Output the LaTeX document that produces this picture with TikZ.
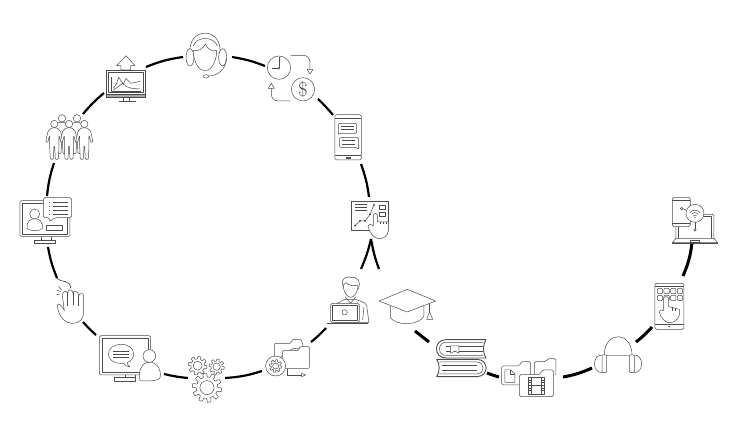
\documentclass[tikz,border=0pt]{standalone}
\tikzset{
  iconbox/.style={rectangle, inner sep=0pt, outer sep=0pt},
  glyph/.style={line width=0.5pt, black!70, line join=round},
  fillglyph/.style={glyph, fill=white},
  link/.style={line width=2.2pt, black},
  boldlink/.style={line width=3pt, black},
}
\newcommand{\cog}[4]{%
  \draw[fillglyph] plot[domain=0:360, samples=161] ({#1+#3*(.86+.14*min(1,max(-1,3*sin(#4*\x))))*cos(\x)},{#2+#3*(.86+.14*min(1,max(-1,3*sin(#4*\x))))*sin(\x)}) -- cycle;
  \draw[glyph] (#1,#2) circle ({#3*.48});
}
\begin{document}
\begin{tikzpicture}[x=1pt, y=-1pt]
\useasboundingbox (0,0) rectangle (737,430);

\node[iconbox, minimum width=41pt, minimum height=45pt] (agent) at (206,55) {};
\node[iconbox, minimum width=48pt, minimum height=46pt] (money) at (291,78) {};
\node[iconbox, minimum width=26pt, minimum height=45pt] (phone) at (348,138) {};
\node[iconbox, minimum width=38pt, minimum height=38pt] (board) at (370,220) {};
\node[iconbox, minimum width=42pt, minimum height=46pt] (person) at (348,300) {};
\node[iconbox, minimum width=44pt, minimum height=38pt] (folder) at (288,358) {};
\node[iconbox, minimum width=35pt, minimum height=47pt] (gears) at (205,379) {};
\node[iconbox, minimum width=62pt, minimum height=45pt] (chat) at (130,358) {};
\node[iconbox, minimum width=27pt, minimum height=41pt] (hand) at (70,303) {};
\node[iconbox, minimum width=52pt, minimum height=45pt] (profile) at (46,220) {};
\node[iconbox, minimum width=47pt, minimum height=46pt] (people) at (70,137) {};
\node[iconbox, minimum width=40pt, minimum height=46pt] (chart) at (126,79) {};
\node[iconbox, minimum width=57pt, minimum height=35pt] (cap) at (407,306) {};
\node[iconbox, minimum width=49pt, minimum height=38pt] (books) at (461,358) {};
\node[iconbox, minimum width=55pt, minimum height=38pt] (files) at (528,378) {};
\node[iconbox, minimum width=46pt, minimum height=37pt] (phones) at (618,354) {};
\node[iconbox, minimum width=29pt, minimum height=46pt] (tablet) at (670,306) {};
\node[iconbox, minimum width=46pt, minimum height=46pt] (devices) at (695,220) {};

\draw[link] ([shift={(26,2)}]agent.center) to[bend left=6] ([shift={(-26,-12)}]money.center);
\draw[link] ([shift={(27,21)}]money.center) to[bend left=3] ([shift={(-15,-23)}]phone.center);
\draw[link] ([shift={(13,26)}]phone.center) to[bend left=6] ([shift={(-1,-23)}]board.center);
\draw[link] ([shift={(1,19)}]board.center) to[bend left=5] ([shift={(13,-31)}]person.center);
\draw[link] ([shift={(1,19)}]board.center) to[bend right=5] ([shift={(-28,-37)}]cap.center);
\draw[link] ([shift={(-22,28)}]person.center) to[bend left=4] ([shift={(23,-16)}]folder.center);
\draw[link] ([shift={(-26,13)}]folder.center) to[bend left=7] ([shift={(20,-1)}]gears.center);
\draw[link] ([shift={(-17,-1)}]gears.center) to[bend left=4] ([shift={(34,16)}]chat.center);
\draw[link] ([shift={(-34,-23)}]chat.center) to[bend left=3] ([shift={(13,19)}]hand.center);
\draw[link] ([shift={(-13,-25)}]hand.center) to[bend left=6] ([shift={(2,27)}]profile.center);
\draw[link] ([shift={(1,-24)}]profile.center) to[bend left=6] ([shift={(-16,26)}]people.center);
\draw[link] ([shift={(13,-23)}]people.center) to[bend left=5] ([shift={(-22,14)}]chart.center);
\draw[link] ([shift={(20,-12)}]chart.center) to[bend left=7] ([shift={(-23,2)}]agent.center);
\draw[boldlink] ([shift={(8,25)}]cap.center) to ([shift={(-32,-16)}]books.center);
\draw[boldlink] ([shift={(26,15)}]books.center) to[bend right=2] ([shift={(-29,-1)}]files.center);
\draw[boldlink] ([shift={(35,-1)}]files.center) to[bend right=7] ([shift={(-26,14)}]phones.center);
\draw[boldlink] ([shift={(18,-12)}]phones.center) to[bend right=5] ([shift={(-18,21)}]tablet.center);
\draw[boldlink] ([shift={(13,-30)}]tablet.center) to[bend right=8] ([shift={(-3,23)}]devices.center);

\begin{scope}[shift={(0,20)}, scale=.3333]
\draw[glyph] (318,150) rectangle (437,232);
\draw[glyph] (325,157) rectangle (430,218);
\draw[glyph, fill=black!35] (318,222) rectangle (437,232);
\draw[glyph] (370,232) -- (370,242) (388,232) -- (388,242);
\draw[glyph, line width=1pt] (358,244) -- (408,244);
\draw[fillglyph] (378,107) -- (350,137) -- (363,137) -- (363,150) -- (392,150) -- (392,137) -- (405,137) -- cycle;
\draw[glyph] (333,170) -- (333,213) -- (423,213);
\draw[glyph] (340,205) -- (350,190) -- (356,172) -- (370,192) -- (378,175) -- (392,190) -- (408,187) -- (422,183);
\draw[glyph] (340,210) -- (355,200) -- (368,190) -- (380,200) -- (395,205) -- (420,207);

\foreach \cx/\cy in {186/295, 231/295, 163/312, 207/312, 253/312}{
  \begin{scope}[shift={(\cx,\cy)}]
  \draw[fillglyph, rounded corners=1pt] (-9,12) -- (9,12) -- (19,22) -- (26,54) -- (20,56) -- (14,34) -- (14,68) -- (12,106) -- (3,106) -- (1,68) -- (-1,68) -- (-3,106) -- (-12,106) -- (-14,68) -- (-14,34) -- (-20,56) -- (-26,54) -- (-19,22) -- cycle;
  \draw[fillglyph] (0,0) circle (11);
  \end{scope}
}

\draw[glyph, rounded corners=1.5pt] (60,542) rectangle (210,650);
\draw[glyph] (67,549) rectangle (203,642);
\draw[glyph] (125,650) -- (125,660) (155,650) -- (155,660);
\draw[glyph] (103,660) rectangle (166,670);
\draw[fillglyph] (82,626) .. controls (78,605) and (90,596) .. (104,596) .. controls (118,596) and (130,605) .. (127,626) .. controls (120,634) and (90,634) .. (82,626) -- cycle;
\draw[fillglyph] (104,582) circle (15);
\draw[glyph] (138,616) rectangle (188,632);
\draw[fillglyph, rounded corners=1.5pt] (130,533) -- (215,533) -- (215,593) -- (165,593) -- (148,605) -- (148,593) -- (130,593) -- cycle;
\foreach \ly in {548,560,572,584}{
  \draw[glyph] (146,\ly) -- (150,\ly) (158,\ly) -- (203,\ly);
}
\end{scope}

\begin{scope}[shift={(170,20)}, scale=.3333]
\draw[glyph] (60,92) .. controls (58,22) and (152,22) .. (150,92);
\draw[glyph] (70,78) .. controls (80,48) and (132,48) .. (142,78);
\draw[fillglyph] (60,112) ellipse (12 and 26);
\draw[fillglyph] (158,112) ellipse (12 and 26);
\draw[fillglyph] (70,92) .. controls (70,130) and (90,153) .. (105,153) .. controls (120,153) and (140,130) .. (140,92) .. controls (125,96) and (110,85) .. (106,72) .. controls (100,86) and (85,95) .. (70,92) -- cycle;
\draw[glyph] (168,118) .. controls (168,150) and (140,168) .. (116,168);
\draw[glyph] (108,169) ellipse (8 and 5);

\draw[glyph] (327,143) circle (35);
\draw[glyph] (327,110) -- (327,142) (324,145) -- (305,145);
\draw[glyph] (327,145) circle (3);
\draw[glyph] (399,208) circle (35);
\node[black!75, font=\fontsize{20}{20}\selectfont] (dollar) at (399,208) {\$};
\draw[glyph] (362,106) -- (400,106) .. controls (412,106) and (420,116) .. (420,128) -- (420,148);
\draw[glyph] (411,148) -- (429,148) -- (420,162) -- cycle;
\draw[glyph] (362,243) -- (324,243) .. controls (312,243) and (304,234) .. (304,222) -- (304,205);
\draw[glyph] (295,205) -- (313,205) -- (304,190) -- cycle;

\draw[glyph, rounded corners=1.5pt] (495,284) rectangle (574,420);
\draw[glyph] (495,296) -- (574,296) (495,405) -- (574,405);
\draw[glyph] (530,411) rectangle (540,416);
\draw[glyph, rounded corners=1pt] (505,310) -- (560,310) -- (560,340) -- (510,340) -- (505,345) -- cycle;
\draw[glyph] (513,320) -- (552,320) (513,329) -- (552,329);
\draw[glyph, rounded corners=1pt] (509,353) -- (566,353) -- (566,388) -- (558,382) -- (509,382) -- cycle;
\draw[glyph] (517,362) -- (556,362) (517,372) -- (556,372);

\draw[glyph, line width=.8pt] (543,543) rectangle (656,632);
\draw[glyph] (556,553) -- (592,553) (556,562) -- (592,562) (556,571) -- (592,571);
\draw[glyph] (555,617) -- (570,603) -- (585,603) -- (600,583) -- (612,555);
\foreach \dx/\dy in {555/617, 570/603, 585/603, 600/583, 612/555}{
  \fill[black!80] (\dx,\dy) circle (3);
}
\draw[glyph] (627,557) rectangle (647,568) (627,577) rectangle (647,590);
\draw[fillglyph] (610,618) -- (610,587) .. controls (610,578) and (622,578) .. (622,587) -- (622,606) -- (656,606) -- (656,630) .. controls (652,650) and (640,656) .. (628,656) .. controls (612,656) and (600,640) .. (594,618) .. controls (595,610) and (603,612) .. (610,618) -- cycle;
\draw[glyph] (631,606) -- (631,612) (640,606) -- (640,612) (648,606) -- (648,612);
\end{scope}

\begin{scope}[shift={(30,240)}, scale=.3333]
\draw[glyph, line width=.7pt] (80,115) .. controls (92,128) and (122,118) .. (122,145);
\draw[glyph] (80,150) -- (92,155) (85,140) -- (95,150) (80,164) -- (90,162);
\draw[fillglyph] (103,212) .. controls (97,198) and (83,182) .. (82,200) .. controls (88,235) and (108,250) .. (126,250) .. controls (150,250) and (161,238) .. (161,212) -- (161,168) .. controls (161,158) and (147,158) .. (146,168) .. controls (146,152) and (130,150) .. (129,160) .. controls (128,146) and (113,146) .. (112,160) .. controls (110,150) and (98,152) .. (97,165) -- cycle;
\draw[glyph] (112,160) -- (112,198) (129,160) -- (129,196) (146,168) -- (146,198);

\draw[glyph, rounded corners=1.5pt] (208,287) rectangle (362,405);
\draw[glyph] (216,294) rectangle (355,398);
\draw[glyph] (285,405) -- (285,412) (316,405) -- (316,412);
\draw[glyph] (253,412) rectangle (317,423);
\draw[glyph] (300,381) .. controls (290,380) and (284,376) .. (281,370) .. controls (250,372) and (235,358) .. (235,342) .. controls (235,325) and (252,313) .. (273,313) .. controls (295,313) and (311,325) .. (311,342) .. controls (311,355) and (302,364) .. (291,368) .. controls (292,373) and (296,377) .. (300,381) -- cycle;
\draw[glyph] (250,335) -- (296,335) (250,344) -- (296,344) (250,353) -- (296,353);
\draw[fillglyph] (330,422) .. controls (322,390) and (340,366) .. (358,366) .. controls (380,366) and (396,390) .. (390,414) .. controls (386,424) and (340,424) .. (330,422) -- cycle;
\draw[fillglyph] (358,348) circle (19);

\cog{503}{377}{28}{8}
\cog{560}{380}{23}{8}
\cog{531}{443}{44}{10}

\draw[fillglyph, rounded corners=1pt] (733,365) -- (733,310) -- (782,310) -- (788,298) -- (812,298) -- (818,310) -- (820,325) -- (790,325) -- cycle;
\draw[fillglyph, rounded corners=1pt] (757,385) -- (757,332) -- (805,332) -- (810,320) -- (838,320) -- (838,385) -- cycle;
\draw[fillglyph] (737,378) circle (30);
\cog{737}{378}{19}{8}
\draw[glyph] (772,388) -- (772,405) -- (815,405);
\draw[glyph] (815,400) -- (815,410) -- (827,405) -- cycle;
\end{scope}

\begin{scope}[shift={(320,240)}, scale=.3333]
\draw[fillglyph] (48,248) -- (48,192) .. controls (55,186) and (66,184) .. (75,178) -- (108,178) .. controls (120,184) and (135,186) .. (140,196) -- (147,248) -- cycle;
\draw[glyph] (75,170) -- (92,190) -- (108,170);
\draw[glyph] (132,200) -- (128,240);
\draw[fillglyph] (70,135) .. controls (70,160) and (84,172) .. (92,172) .. controls (100,172) and (114,160) .. (114,135) .. controls (100,140) and (85,136) .. (78,128) -- cycle;
\draw[glyph] (70,140) .. controls (58,110) and (85,110) .. (92,112) .. controls (115,110) and (125,125) .. (114,148);
\draw[fillglyph, rounded corners=1.5pt] (32,190) rectangle (118,247);
\draw[glyph] (38,196) rectangle (112,242);
\draw[glyph] (74,217) circle (8);
\draw[glyph, line width=.8pt] (22,249) -- (145,249);

\draw[glyph] (211,198) -- (211,232) .. controls (225,258) and (298,258) .. (312,228) -- (312,198);
\draw[fillglyph] (177,183) -- (262,148) -- (347,183) -- (262,216) -- cycle;
\draw[glyph] (329,190) -- (329,216);
\draw[glyph] (329,215) -- (320,238) -- (338,238) -- cycle;

\draw[glyph, line width=.9pt] (498,299) -- (378,299) .. controls (340,299) and (340,354) .. (378,354) -- (498,354) .. controls (488,340) and (488,312) .. (498,299) -- cycle;
\draw[glyph] (490,307) -- (378,307) .. controls (352,307) and (352,346) .. (378,346) -- (490,346);
\draw[glyph] (378,320) -- (490,320) (378,335) -- (490,335);
\draw[fillglyph] (392,318) -- (417,318) -- (417,340) -- (405,333) -- (392,340) -- cycle;
\draw[glyph, line width=.9pt] (350,358) -- (470,358) .. controls (508,358) and (508,410) .. (470,410) -- (350,410) .. controls (360,395) and (360,372) .. (350,358) -- cycle;
\draw[glyph] (358,366) -- (470,366) .. controls (496,366) and (496,402) .. (470,402) -- (358,402);
\draw[glyph] (365,377) -- (470,377) (365,390) -- (470,390);

\draw[glyph, rounded corners=1.5pt] (545,435) -- (545,378) -- (598,378) -- (604,365) -- (632,365) -- (632,435) -- cycle;
\draw[glyph] (555,390) -- (572,390) -- (585,403) -- (585,427) -- (555,427) -- cycle;
\draw[glyph] (572,390) -- (572,403) -- (585,403);
\draw[glyph, rounded corners=1.5pt] (643,405) -- (643,365) -- (678,365) -- (683,356) -- (708,356) -- (708,405);
\draw[fillglyph, rounded corners=1.5pt] (598,470) -- (598,404) -- (660,404) -- (666,390) -- (700,390) -- (700,470) -- cycle;
\draw[glyph] (625,412) rectangle (674,462);
\draw[glyph] (635,412) -- (635,462) (665,412) -- (665,462) (635,437) -- (665,437);
\foreach \fy in {420,428,436,444,452}{
  \draw[glyph] (625,\fy) -- (635,\fy) (665,\fy) -- (674,\fy);
}
\end{scope}

\begin{scope}[shift={(570,180)}, scale=.3333]
\draw[glyph] (103,525) .. controls (103,452) and (186,452) .. (186,525);
\draw[glyph, black!35] (110,527) -- (178,527);
\draw[glyph] (96,525) .. controls (66,525) and (66,578) .. (96,578);
\draw[glyph, rounded corners=1pt] (96,525) rectangle (110,578);
\draw[glyph] (193,525) .. controls (222,525) and (222,578) .. (193,578);
\draw[glyph, rounded corners=1pt] (178,525) rectangle (193,578);

\draw[glyph, rounded corners=1.5pt] (255,310) rectangle (342,448);
\draw[glyph] (255,320) -- (342,320) (255,432) -- (342,432);
\draw[glyph] (298,440) circle (2);
\foreach \kx in {262,282,302,322}{
  \foreach \ky in {325,346}{
    \draw[glyph, rounded corners=1pt] (\kx,\ky) rectangle +(16,16);
  }
}
\draw[fillglyph] (280,392) -- (280,358) .. controls (280,347) and (296,347) .. (296,358) -- (296,380) -- (328,388) -- (328,405) .. controls (325,420) and (310,430) .. (295,428) .. controls (282,425) and (272,412) .. (268,397) .. controls (270,388) and (277,388) .. (280,392) -- cycle;
\draw[glyph] (306,382) -- (306,392) (317,385) -- (317,394);

\draw[glyph, rounded corners=1.5pt] (318,178) -- (318,103) -- (432,103) -- (432,178);
\draw[glyph] (325,175) -- (325,110) -- (425,110) -- (425,175);
\draw[glyph] (318,175) -- (432,175) -- (443,188) -- (307,188) -- cycle;
\draw[glyph] (307,190) -- (443,190);
\draw[glyph] (362,182) rectangle (388,188);
\draw[fillglyph, rounded corners=1.5pt] (307,52) rectangle (361,140);
\draw[glyph] (307,130) -- (361,130) (307,62) -- (361,62);
\draw[glyph] (335,86) circle (4) (339,86) -- (350,92);
\draw[glyph] (375,126) -- (375,146);
\draw[glyph] (375,150) circle (4);
\draw[fillglyph] (375,100) circle (27);
\draw[glyph] (360,98) .. controls (368,88) and (382,88) .. (390,98);
\draw[glyph] (365,103) .. controls (371,96) and (379,96) .. (385,103);
\draw[glyph] (370,108) .. controls (373,104) and (377,104) .. (380,108);
\fill[black!75] (375,112) circle (2);
\end{scope}
\end{tikzpicture}
\end{document}
